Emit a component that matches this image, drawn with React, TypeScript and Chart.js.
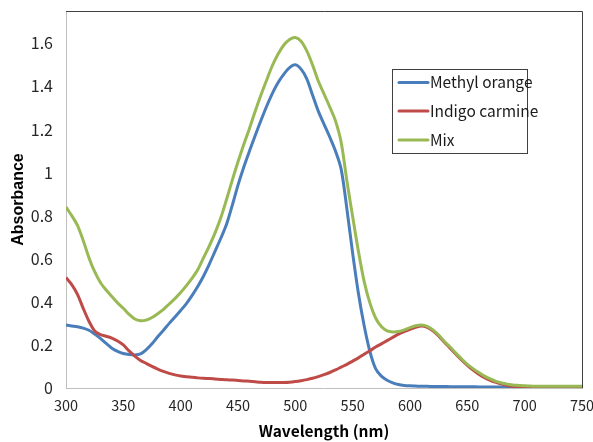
import React, { useEffect, useRef } from "react";
import { Chart, registerables } from "chart.js";

Chart.register(...registerables);

const wavelengths = [
  300, 305, 310, 315, 320, 325, 330, 335, 340, 345, 350, 355, 360, 365, 370, 375, 380, 385, 390, 395,
  400, 405, 410, 415, 420, 425, 430, 435, 440, 445, 450, 455, 460, 465, 470, 475, 480, 485, 490, 495,
  500, 505, 510, 515, 520, 525, 530, 535, 540, 545, 550, 555, 560, 565, 570, 575, 580, 585, 590, 595,
  600, 605, 610, 615, 620, 625, 630, 635, 640, 645, 650, 655, 660, 665, 670, 675, 680, 685, 690, 695,
  700, 705, 710, 715, 720, 725, 730, 735, 740, 745, 750,
];

const methylOrange = [
  0.292, 0.288, 0.284, 0.278, 0.268, 0.25, 0.23, 0.207, 0.185, 0.17, 0.16, 0.155, 0.153, 0.158, 0.178, 0.205, 0.238, 0.268, 0.3, 0.33,
  0.36, 0.392, 0.43, 0.472, 0.52, 0.575, 0.635, 0.695, 0.76, 0.848, 0.942, 1.025, 1.1, 1.172, 1.242, 1.308, 1.368, 1.418, 1.457, 1.487,
  1.5, 1.48, 1.435, 1.36, 1.285, 1.225, 1.165, 1.1, 1.015, 0.83, 0.625, 0.44, 0.29, 0.17, 0.09, 0.055, 0.036, 0.024, 0.016, 0.012,
  0.01, 0.009, 0.008, 0.008, 0.007, 0.007, 0.007, 0.006, 0.006, 0.006, 0.006, 0.006, 0.005, 0.005, 0.005, 0.005, 0.005, 0.005, 0.005, 0.005,
  0.005, 0.005, 0.005, 0.005, 0.005, 0.005, 0.005, 0.005, 0.005, 0.005, 0.005,
];

const indigoCarmine = [
  0.513, 0.48, 0.435, 0.37, 0.31, 0.265, 0.248, 0.24, 0.232, 0.218, 0.2, 0.172, 0.148, 0.128, 0.114, 0.1, 0.088, 0.077, 0.068, 0.061,
  0.056, 0.052, 0.05, 0.047, 0.045, 0.044, 0.042, 0.04, 0.038, 0.037, 0.035, 0.033, 0.031, 0.029, 0.027, 0.026, 0.026, 0.026, 0.026, 0.027,
  0.03, 0.034, 0.039, 0.045, 0.053, 0.062, 0.072, 0.084, 0.097, 0.11, 0.125, 0.14, 0.157, 0.173, 0.19, 0.205, 0.22, 0.235, 0.25, 0.262,
  0.272, 0.282, 0.288, 0.282, 0.266, 0.242, 0.212, 0.185, 0.157, 0.13, 0.105, 0.083, 0.064, 0.048, 0.036, 0.026, 0.018, 0.012, 0.008, 0.005,
  0.003, 0.002, 0.002, 0.002, 0.002, 0.002, 0.002, 0.002, 0.002, 0.002, 0.002,
];

const mix = [
  0.84, 0.8, 0.755, 0.685, 0.605, 0.54, 0.49, 0.455, 0.425, 0.395, 0.37, 0.342, 0.32, 0.312, 0.315, 0.327, 0.345, 0.365, 0.39, 0.415,
  0.443, 0.475, 0.51, 0.55, 0.605, 0.66, 0.72, 0.79, 0.875, 0.965, 1.05, 1.13, 1.205, 1.285, 1.36, 1.43, 1.497, 1.55, 1.592, 1.618,
  1.627, 1.61, 1.565, 1.5, 1.425, 1.365, 1.305, 1.24, 1.14, 0.96, 0.795, 0.635, 0.495, 0.395, 0.325, 0.285, 0.265, 0.26, 0.262, 0.27,
  0.28, 0.289, 0.292, 0.286, 0.27, 0.246, 0.216, 0.19, 0.162, 0.135, 0.11, 0.09, 0.072, 0.055, 0.042, 0.031, 0.023, 0.017, 0.014, 0.012,
  0.01, 0.009, 0.008, 0.008, 0.008, 0.008, 0.008, 0.008, 0.008, 0.008, 0.008,
];

const seriesLabels = ["Methyl orange", "Indigo carmine", "Mix"];
const seriesColors = ["#4a7ebb", "#be4b48", "#98b954"];
const seriesValues = [methylOrange, indigoCarmine, mix];

const xTitle = "Wavelength (nm)";
const yTitle = "Absorbance";

const SANS = "'Noto Sans CJK SC', 'Liberation Sans', Arial, sans-serif";
const WIDE = "'Liberation Sans', Arial, sans-serif";

const framePlugin = {
  id: "frame",
  afterDraw(chart: any) {
    const { ctx, chartArea } = chart;
    ctx.save();
    ctx.strokeStyle = "#404040";
    ctx.lineWidth = 1;
    ctx.beginPath();
    ctx.moveTo(chartArea.left, chartArea.top + 0.5);
    ctx.lineTo(chartArea.right + 0.5, chartArea.top + 0.5);
    ctx.lineTo(chartArea.right + 0.5, chartArea.bottom);
    ctx.stroke();
    ctx.restore();
  },
};

const legendPlugin = {
  id: "boxLegend",
  afterDraw(chart: any) {
    const { ctx } = chart;
    const bx = 392.5, by = 69.5, bw = 135, bh = 84;
    ctx.save();
    ctx.fillStyle = "#ffffff";
    ctx.fillRect(bx, by, bw, bh);
    ctx.strokeStyle = "#404040";
    ctx.lineWidth = 1;
    ctx.strokeRect(bx, by, bw, bh);
    const rows = [82.5, 111, 140];
    chart.data.datasets.forEach((ds: any, i: number) => {
      const y = rows[i];
      ctx.strokeStyle = ds.borderColor;
      ctx.lineWidth = 3;
      ctx.lineCap = "round";
      ctx.beginPath();
      ctx.moveTo(399, y);
      ctx.lineTo(428, y);
      ctx.stroke();
      ctx.fillStyle = "#1a1a1a";
      ctx.font = `15.5px ${SANS}`;
      ctx.textBaseline = "middle";
      ctx.textAlign = "left";
      ctx.fillText(ds.label, 430, y);
    });
    ctx.restore();
  },
};

export default function App() {
  const canvasRef = useRef<HTMLCanvasElement | null>(null);

  useEffect(() => {
    const canvas = canvasRef.current;
    if (!canvas) return;
    const datasets = seriesLabels.map((label, i) => ({
      label,
      data: wavelengths.map((w, j) => ({ x: w, y: seriesValues[i][j] })),
      borderColor: seriesColors[i],
      backgroundColor: seriesColors[i],
      borderWidth: 3,
      pointRadius: 0,
      tension: 0.3,
      fill: false,
      order: 2 - i,
    }));
    const chart = new Chart(canvas, {
      type: "line",
      data: { datasets },
      plugins: [framePlugin, legendPlugin],
      options: {
        animation: false,
        responsive: false,
        layout: { padding: { top: 11, right: 11, left: 0, bottom: 0 } },
        plugins: { legend: { display: false }, tooltip: { enabled: false } },
        scales: {
          x: {
            type: "linear",
            min: 300,
            max: 750,
            grid: { display: false, drawTicks: false },
            border: { display: true, color: "#bfbfbf", width: 1 },
            ticks: {
              stepSize: 50,
              padding: 9,
              color: "#262626",
              font: { family: SANS, size: 14.5 },
              maxRotation: 0,
            },
            title: {
              display: true,
              text: xTitle,
              color: "#000000",
              font: { family: SANS, size: 15.5, weight: "bold" },
              padding: { top: 0, bottom: 2 },
            },
            afterFit(scale: any) {
              scale.height = 54;
              scale.paddingLeft = 0;
              scale.paddingRight = 0;
            },
          },
          y: {
            type: "linear",
            min: 0,
            max: 1.75,
            grid: { display: false, drawTicks: false },
            border: { display: true, color: "#bfbfbf", width: 1 },
            ticks: {
              stepSize: 0.2,
              padding: 13,
              color: "#262626",
              font: { family: SANS, size: 16 },
              callback: (v: any) => String(Math.round(Number(v) * 10) / 10),
            },
            afterBuildTicks(scale: any) {
              scale.ticks = scale.ticks.filter(
                (t: any) => Math.abs(t.value / 0.2 - Math.round(t.value / 0.2)) < 1e-6
              );
            },
            title: {
              display: true,
              text: yTitle,
              color: "#000000",
              font: { family: WIDE, size: 16, weight: "bold" },
              padding: { top: 9, bottom: 0 },
            },
            afterFit(scale: any) {
              scale.width = 66;
              scale.paddingTop = 0;
              scale.paddingBottom = 0;
            },
          },
        },
      },
    } as any);
    return () => chart.destroy();
  }, []);

  return (
    <div style={{ position: "fixed", left: 0, top: 0, width: 593, height: 442, background: "#ffffff" }}>
      <canvas ref={canvasRef} width={593} height={442} style={{ display: "block", width: 593, height: 442 }} />
    </div>
  );
}
